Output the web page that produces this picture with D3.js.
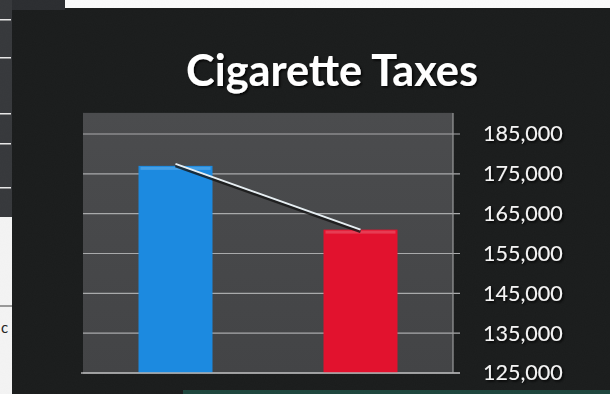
<!DOCTYPE html>
<html>
<head>
<meta charset="utf-8">
<script src="https://cdn.jsdelivr.net/npm/d3@7"></script>
<style>
  html, body { margin: 0; padding: 0; background: #1a1c1c; }
  svg { display: block; }
</style>
</head>
<body>
<svg id="chart" width="610" height="394"></svg>
<script>
// ---- data ----
const title = "Cigarette Taxes";
const categories = ["Before", "After"];
const barValues = [177000, 161000];
const lineValues = [177500, 161000];
const barColors = ["#1c8ae0", "#e2122e"];
const tickValues = [125000, 135000, 145000, 155000, 165000, 175000, 185000];
const yDomain = [125000, 185000];
const yTop = 190300;

// ---- layout ----
const W = 610, H = 394;
const plot = { left: 83, right: 453 };
const svg = d3.select("#chart");

const defs = svg.append("defs");
const sh = defs.append("filter").attr("id", "shadow").attr("x", "-10%").attr("y", "-20%").attr("width", "130%").attr("height", "150%");
sh.append("feDropShadow").attr("dx", 1.5).attr("dy", 1.5).attr("stdDeviation", 1.2).attr("flood-color", "#000").attr("flood-opacity", 0.9);
const noise = defs.append("filter").attr("id", "noise");
noise.append("feTurbulence").attr("type", "fractalNoise").attr("baseFrequency", 0.9).attr("numOctaves", 2).attr("seed", 3);
noise.append("feColorMatrix").attr("type", "matrix").attr("values", "0 0 0 0 0.3  0 0 0 0 0.3  0 0 0 0 0.3  0 0 0 0.03 0");

const grad = defs.append("linearGradient").attr("id", "plotbg").attr("x1", 0).attr("y1", 0).attr("x2", 0).attr("y2", 1);
grad.append("stop").attr("offset", "0%").attr("stop-color", "#4b4c4e");
grad.append("stop").attr("offset", "100%").attr("stop-color", "#434446");

// background pieces of the photographed scene
svg.append("rect").attr("x", 0).attr("y", 0).attr("width", W).attr("height", H).attr("fill", "#1a1c1c");
svg.append("rect").attr("x", 0).attr("y", 0).attr("width", 65).attr("height", 10).attr("fill", "#2b2d30");
svg.append("rect").attr("x", 65).attr("y", 0).attr("width", W - 65).attr("height", 8).attr("fill", "#fbfbfb");
svg.append("rect").attr("x", 0).attr("y", 0).attr("width", 12).attr("height", 217).attr("fill", "#36383b");
[19, 57, 113, 143, 187].forEach(y => svg.append("rect").attr("x", 0).attr("y", y).attr("width", 11).attr("height", 1.5).attr("fill", "#e8e8e8"));
svg.append("rect").attr("x", 0).attr("y", 217).attr("width", 12).attr("height", H - 217).attr("fill", "#f4f4f4");
svg.append("rect").attr("x", 0).attr("y", 305).attr("width", 12).attr("height", 2).attr("fill", "#999");
svg.append("text").attr("x", 1).attr("y", 333).attr("font-family", "Lato, sans-serif").attr("font-size", 15).attr("fill", "#222").text("c");
svg.append("rect").attr("x", 183).attr("y", 390).attr("width", W - 183).attr("height", 4).attr("fill", "#1d463d");
svg.append("rect").attr("x", 12).attr("y", 8).attr("width", W - 12).attr("height", H - 8).attr("filter", "url(#noise)");

// ---- scales ----
const x = d3.scaleBand().domain(categories).range([plot.left, plot.right]).paddingInner(0.6).paddingOuter(0.3);
const y = d3.scaleLinear().domain(yDomain).range([373, 134]);

// plot area
svg.append("rect")
  .attr("x", plot.left).attr("y", y(yTop))
  .attr("width", plot.right - plot.left).attr("height", y(yDomain[0]) - y(yTop))
  .attr("fill", "url(#plotbg)");

// right axis labels
const axis = d3.axisRight(y).tickValues(tickValues).tickFormat(d3.format(",")).tickSize(0).tickPadding(30);
const gAxis = svg.append("g").attr("transform", `translate(${plot.right},0)`).call(axis);
gAxis.select(".domain").remove();
gAxis.selectAll("text")
  .attr("fill", "#f4f4f4")
  .attr("font-family", "Lato, 'Open Sans', sans-serif")
  .attr("font-size", 21.5)
  .attr("filter", "url(#shadow)");

// gridlines
svg.append("g").selectAll("line").data(tickValues).join("line")
  .attr("x1", plot.left).attr("x2", plot.right + 7)
  .attr("y1", d => y(d)).attr("y2", d => y(d))
  .attr("stroke", "#a9aaab").attr("stroke-width", 1.2);

svg.append("line")
  .attr("x1", plot.right).attr("x2", plot.right)
  .attr("y1", y(yTop)).attr("y2", y(yDomain[0]))
  .attr("stroke", "#9a9b9c").attr("stroke-width", 1.2);

// bars
const bars = svg.append("g");
bars.selectAll("rect.bar").data(barValues).join("rect")
  .attr("class", "bar")
  .attr("x", (d, i) => x(categories[i]))
  .attr("y", d => y(d))
  .attr("width", x.bandwidth())
  .attr("height", d => y(yDomain[0]) - y(d))
  .attr("fill", (d, i) => barColors[i]);
bars.selectAll("rect.hl").data(barValues).join("rect")
  .attr("class", "hl")
  .attr("x", (d, i) => x(categories[i]) + 2)
  .attr("y", d => y(d) + 1)
  .attr("width", x.bandwidth() - 4)
  .attr("height", 3)
  .attr("fill", "#ffffff").attr("opacity", 0.18);

// baseline
svg.append("line")
  .attr("x1", plot.left - 2).attr("x2", plot.right + 7)
  .attr("y1", y(yDomain[0])).attr("y2", y(yDomain[0]))
  .attr("stroke", "#b0b1b2").attr("stroke-width", 1.5);

// trend line
const line = d3.line().x((d, i) => x(categories[i]) + x.bandwidth() / 2).y(d => y(d));
svg.append("path").datum(lineValues).attr("d", line)
  .attr("transform", "translate(0,2)")
  .attr("fill", "none").attr("stroke", "#151515").attr("stroke-width", 3).attr("opacity", 0.8);
svg.append("path").datum(lineValues).attr("d", line)
  .attr("fill", "none").attr("stroke", "#e6eef2").attr("stroke-width", 2);

// title
const t = svg.append("text")
  .attr("x", 332).attr("y", 86)
  .attr("text-anchor", "middle")
  .attr("font-family", "Lato, 'Open Sans', sans-serif")
  .attr("font-weight", "bold")
  .attr("font-size", 46)
  .attr("fill", "#ffffff")
  .attr("filter", "url(#shadow)")
  .text(title);
const tw = t.node().getComputedTextLength();
t.attr("font-size", 46 * 292 / tw);
</script>
</body>
</html>
